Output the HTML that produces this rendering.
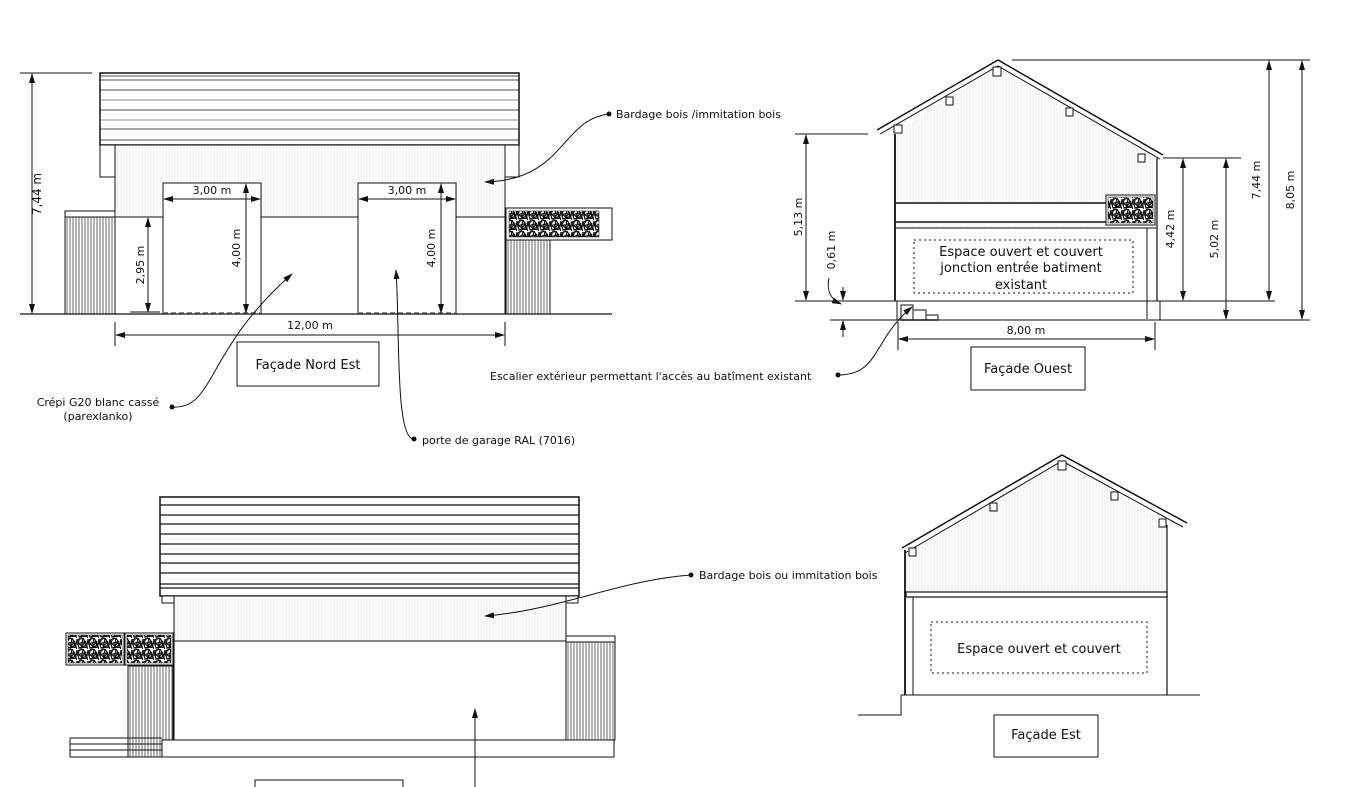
<!DOCTYPE html>
<html><head><meta charset="utf-8"><style>
html,body{margin:0;padding:0;background:#fff;}
svg{display:block;font-family:"DejaVu Sans","Liberation Sans",sans-serif;}
text{fill:#111;}
</style></head><body>
<svg width="1351" height="787" viewBox="0 0 1351 787" xmlns="http://www.w3.org/2000/svg">
<defs>
<pattern id="vh" width="3" height="10" patternUnits="userSpaceOnUse"><rect width="3" height="10" fill="#fff"/><line x1="1" y1="0" x2="1" y2="10" stroke="#dedede" stroke-width="0.6"/></pattern>
<pattern id="vd" width="3" height="10" patternUnits="userSpaceOnUse"><rect width="3" height="10" fill="#fff"/><line x1="1" y1="0" x2="1" y2="10" stroke="#444" stroke-width="0.8"/></pattern>
<pattern id="gab" width="11" height="11" patternUnits="userSpaceOnUse"><rect width="11" height="11" fill="#fff"/><path d="M0 2L6 0L10 7L2 10L0 2M6 0L4 11M10 7L11 1M2 10L11 9M0 6L7 4L11 11M3 0L1 5L5 8L9 3" stroke="#111" stroke-width="1.2" fill="none"/></pattern>
<marker id="ar" markerWidth="10" markerHeight="6" refX="9" refY="3" orient="auto" markerUnits="userSpaceOnUse"><path d="M0 0L10 3L0 6z" fill="#111"/></marker>
<marker id="ar2" markerWidth="10" markerHeight="6" refX="9" refY="3" orient="auto-start-reverse" markerUnits="userSpaceOnUse"><path d="M0 0L10 3L0 6z" fill="#111"/></marker>
</defs>

<!-- ===== Façade Nord Est ===== -->
<g stroke="#111" fill="none">
<rect x="100" y="73" width="419" height="72" fill="#fff" stroke-width="1.5"/>
<g stroke-width="0.8">
<line x1="100" y1="76" x2="519" y2="76"/><line x1="100" y1="80" x2="519" y2="80"/>
<line x1="100" y1="90" x2="519" y2="90"/><line x1="100" y1="100" x2="519" y2="100" stroke="#666"/>
<line x1="100" y1="110" x2="519" y2="110"/><line x1="100" y1="120" x2="519" y2="120" stroke="#666"/>
<line x1="100" y1="129" x2="519" y2="129"/><line x1="100" y1="140" x2="519" y2="140"/>
</g>
<rect x="115" y="145" width="390" height="72" fill="url(#vh)" stroke-width="1"/>
<rect x="100" y="145" width="15" height="32" fill="#fff"/><rect x="505" y="145" width="14" height="32" fill="#fff"/>
<rect x="115" y="217" width="390" height="97" fill="#fff" stroke-width="1"/>
<rect x="163" y="183" width="98" height="131" fill="#fff"/>
<rect x="358" y="183" width="98" height="131" fill="#fff"/>
<line x1="163" y1="313" x2="261" y2="313" stroke-dasharray="5 3" stroke="#888" stroke-width="2"/>
<line x1="358" y1="313" x2="456" y2="313" stroke-dasharray="5 3" stroke="#888" stroke-width="2"/>
<rect x="65" y="211" width="50" height="6" fill="#fff"/>
<rect x="65" y="217" width="50" height="97" fill="url(#vd)"/>
<rect x="506" y="208" width="106" height="32" fill="#fff"/>
<rect x="509" y="211" width="90" height="26" fill="url(#gab)" stroke-width="0.5"/>
<rect x="506" y="240" width="44" height="74" fill="url(#vd)"/>
<line x1="20" y1="314" x2="612" y2="314" stroke-width="1.2"/>
<line x1="20" y1="73" x2="92" y2="73"/>
<line x1="32" y1="74" x2="32" y2="313" marker-start="url(#ar2)" marker-end="url(#ar)"/>
<line x1="130" y1="217" x2="160" y2="217"/><line x1="130" y1="312" x2="160" y2="312"/>
<line x1="148" y1="218" x2="148" y2="312" marker-start="url(#ar2)" marker-end="url(#ar)"/>
<line x1="246" y1="184" x2="246" y2="313" marker-start="url(#ar2)" marker-end="url(#ar)"/>
<line x1="441" y1="184" x2="441" y2="313" marker-start="url(#ar2)" marker-end="url(#ar)"/>
<line x1="164" y1="199" x2="260" y2="199" marker-start="url(#ar2)" marker-end="url(#ar)"/>
<line x1="359" y1="199" x2="455" y2="199" marker-start="url(#ar2)" marker-end="url(#ar)"/>
<line x1="115" y1="322" x2="115" y2="346"/><line x1="505" y1="322" x2="505" y2="346"/>
<line x1="116" y1="335" x2="504" y2="335" marker-start="url(#ar2)" marker-end="url(#ar)"/>
<rect x="237" y="342" width="142" height="44" fill="#fff"/>
<path d="M609 114 C560 120 565 180 485 182" marker-end="url(#ar)"/>
<path d="M172 407 C215 410 205 350 292 274" marker-end="url(#ar)"/>
<path d="M414 439 C395 440 400 330 396 270" marker-end="url(#ar)"/>
</g>
<circle cx="609" cy="114" r="2.5" fill="#111"/><circle cx="172" cy="407" r="2.5" fill="#111"/><circle cx="414" cy="439" r="2.5" fill="#111"/>
<g font-size="11">
<text x="212" y="194" text-anchor="middle" dx="0">3,00 m</text><text x="407" y="194" text-anchor="middle">3,00 m</text>
<text x="310" y="329" text-anchor="middle">12,00 m</text>
<text transform="translate(41,194) rotate(-90)" text-anchor="middle" font-size="12">7,44 m</text>
<text transform="translate(144,265) rotate(-90)" text-anchor="middle">2,95 m</text>
<text transform="translate(240,248) rotate(-90)" text-anchor="middle">4,00 m</text>
<text transform="translate(435,248) rotate(-90)" text-anchor="middle">4,00 m</text>
<text x="616" y="118">Bardage bois /immitation bois</text>
<text x="98" y="406" text-anchor="middle">Crépi G20 blanc cassé</text>
<text x="98" y="420" text-anchor="middle">(parexlanko)</text>
<text x="422" y="444">porte de garage RAL (7016)</text>
</g>
<text x="308" y="369" font-size="13" text-anchor="middle">Façade Nord Est</text>

<!-- ===== Façade Ouest ===== -->
<g stroke="#111" fill="none">
<path d="M895 134 L998 66 L1157 158 L1157 301 L895 301Z" fill="url(#vh)" stroke="none"/>
<path d="M877 130 L998 60 L1163 155" stroke-width="1.5"/>
<path d="M880 134 L998 66 L1160 159" stroke-width="1"/>
<rect x="894" y="125" width="8" height="8" fill="#fff"/><rect x="946" y="97" width="7" height="8" fill="#fff"/>
<rect x="993" y="67" width="8" height="9" fill="#fff"/><rect x="1066" y="108" width="7" height="8" fill="#fff"/><rect x="1138" y="154" width="7" height="8" fill="#fff"/>
<line x1="895" y1="134" x2="895" y2="301" stroke-width="1.8"/>
<line x1="1157" y1="158" x2="1157" y2="301" stroke-width="1.2"/>
<rect x="896" y="203" width="210" height="20" fill="#fff" stroke="none"/>
<line x1="896" y1="203" x2="1110" y2="203" stroke-width="1.5"/>
<line x1="896" y1="222" x2="1110" y2="222" stroke-width="1.5"/>
<rect x="896" y="228" width="260" height="73" fill="#fff" stroke="none"/>
<line x1="896" y1="228" x2="1156" y2="228"/>
<rect x="1106" y="195" width="49" height="30" fill="#fff"/>
<rect x="1108" y="197" width="45" height="26" fill="url(#gab)" stroke-width="0.5"/>
<rect x="914" y="240" width="219" height="53" stroke-dasharray="2 3" stroke-width="1"/>
<line x1="1147" y1="228" x2="1147" y2="320"/>
<line x1="795" y1="301" x2="1275" y2="301"/>
<line x1="830" y1="320" x2="1310" y2="320"/>
<line x1="892" y1="320" x2="1160" y2="320" stroke="#888" stroke-width="2"/>
<line x1="897" y1="301" x2="897" y2="320"/><line x1="1160" y1="301" x2="1160" y2="320"/>
<rect x="901" y="305" width="12" height="15"/><rect x="913" y="310" width="13" height="10"/><rect x="926" y="315" width="12" height="5"/>
<line x1="795" y1="134" x2="868" y2="134"/>
<line x1="806" y1="135" x2="806" y2="300" marker-start="url(#ar2)" marker-end="url(#ar)"/>
<line x1="843" y1="287" x2="843" y2="300" marker-end="url(#ar)"/>
<line x1="843" y1="337" x2="843" y2="321" marker-end="url(#ar)"/>
<path d="M829 278 C826 292 832 300 841 304" marker-end="url(#ar)"/>
<line x1="1163" y1="158" x2="1222" y2="158"/><line x1="1196" y1="158" x2="1241" y2="158"/>
<line x1="1183" y1="159" x2="1183" y2="300" marker-start="url(#ar2)" marker-end="url(#ar)"/>
<line x1="1226" y1="159" x2="1226" y2="319" marker-start="url(#ar2)" marker-end="url(#ar)"/>
<line x1="1012" y1="60" x2="1310" y2="60"/>
<line x1="1269" y1="61" x2="1269" y2="300" marker-start="url(#ar2)" marker-end="url(#ar)"/>
<line x1="1302" y1="61" x2="1302" y2="319" marker-start="url(#ar2)" marker-end="url(#ar)"/>
<line x1="898" y1="322" x2="898" y2="350"/><line x1="1155" y1="322" x2="1155" y2="350"/>
<line x1="899" y1="339" x2="1154" y2="339" marker-start="url(#ar2)" marker-end="url(#ar)"/>
<rect x="971" y="347" width="114" height="43" fill="#fff"/>
<path d="M838 375 C880 375 872 340 912 307" marker-end="url(#ar)"/>
</g>
<circle cx="838" cy="375" r="2.5" fill="#111"/>
<g font-size="11">
<text transform="translate(802,217) rotate(-90)" text-anchor="middle">5,13 m</text>
<text transform="translate(835,250) rotate(-90)" text-anchor="middle">0,61 m</text>
<text transform="translate(1174,229) rotate(-90)" text-anchor="middle">4,42 m</text>
<text transform="translate(1218,239) rotate(-90)" text-anchor="middle">5,02 m</text>
<text transform="translate(1260,180) rotate(-90)" text-anchor="middle">7,44 m</text>
<text transform="translate(1294,190) rotate(-90)" text-anchor="middle">8,05 m</text>
<text x="1026" y="334" text-anchor="middle">8,00 m</text>
<text x="490" y="380">Escalier extérieur permettant l'accès au batîment existant</text>
</g>
<g font-size="13" text-anchor="middle">
<text x="1021" y="256">Espace ouvert et couvert</text>
<text x="1021" y="272">jonction entrée batiment</text>
<text x="1021" y="289">existant</text>
</g>
<text x="1028" y="373" font-size="13" text-anchor="middle">Façade Ouest</text>

<!-- ===== Bottom left façade ===== -->
<g stroke="#111" fill="none">
<rect x="160" y="497" width="419" height="99" fill="#fff" stroke-width="1.5"/>
<g stroke-width="1.3">
<line x1="160" y1="505" x2="579" y2="505"/><line x1="160" y1="515" x2="579" y2="515"/>
<line x1="160" y1="524" x2="579" y2="524"/><line x1="160" y1="534" x2="579" y2="534"/>
<line x1="160" y1="544" x2="579" y2="544"/><line x1="160" y1="554" x2="579" y2="554"/>
<line x1="160" y1="563" x2="579" y2="563"/><line x1="160" y1="573" x2="579" y2="573"/>
<line x1="160" y1="584" x2="579" y2="584"/><line x1="160" y1="588" x2="579" y2="588"/>
</g>
<rect x="162" y="596" width="12" height="7" fill="#fff"/><rect x="566" y="596" width="12" height="7" fill="#fff"/>
<rect x="174" y="596" width="392" height="45" fill="url(#vh)"/>
<rect x="174" y="641" width="392" height="99" fill="#fff"/>
<rect x="566" y="636" width="49" height="6" fill="#fff"/>
<rect x="566" y="642" width="49" height="98" fill="url(#vd)"/>
<rect x="66" y="633" width="58" height="32" fill="#fff"/><rect x="68" y="635" width="54" height="28" fill="url(#gab)" stroke-width="0.5"/>
<rect x="125" y="633" width="48" height="32" fill="#fff"/><rect x="127" y="635" width="44" height="28" fill="url(#gab)" stroke-width="0.5"/>
<rect x="128" y="666" width="45" height="91" fill="url(#vd)"/>
<rect x="162" y="740" width="452" height="17" fill="#fff"/>
<line x1="70" y1="738" x2="162" y2="738"/><line x1="70" y1="744" x2="162" y2="744"/>
<line x1="70" y1="750" x2="162" y2="750"/><line x1="70" y1="757" x2="162" y2="757"/>
<line x1="70" y1="738" x2="70" y2="757"/>
<rect x="255" y="780" width="148" height="20" fill="#fff"/>
<line x1="475" y1="787" x2="475" y2="709" marker-end="url(#ar)"/>
<path d="M691 575 C620 580 560 610 485 616" marker-end="url(#ar)"/>
</g>
<circle cx="691" cy="575" r="2.5" fill="#111"/>
<text x="699" y="579" font-size="11">Bardage bois ou immitation bois</text>

<!-- ===== Façade Est ===== -->
<g stroke="#111" fill="none">
<path d="M905 552 L1062 459 L1167 525 L1167 597 L905 597Z" fill="url(#vh)" stroke="none"/>
<path d="M902 548 L1062 455 L1187 523" stroke-width="1.5"/>
<path d="M905 553 L1062 461 L1183 527" stroke-width="1"/>
<rect x="909" y="548" width="7" height="8" fill="#fff"/><rect x="990" y="503" width="7" height="8" fill="#fff"/>
<rect x="1058" y="461" width="8" height="9" fill="#fff"/><rect x="1111" y="492" width="7" height="8" fill="#fff"/><rect x="1159" y="519" width="7" height="8" fill="#fff"/>
<line x1="905" y1="550" x2="905" y2="695" stroke-width="1.8"/>
<line x1="913" y1="597" x2="913" y2="695"/>
<line x1="1167" y1="525" x2="1167" y2="695" stroke-width="1.2"/>
<rect x="906" y="592" width="261" height="5" fill="#fff" stroke-width="1.2"/>
<rect x="931" y="622" width="216" height="51" stroke-dasharray="2 3"/>
<line x1="901" y1="695" x2="1200" y2="695"/>
<path d="M901 695 L901 715 L858 715"/>
<rect x="994" y="715" width="104" height="42" fill="#fff"/>
</g>
<text x="1039" y="653" font-size="13" text-anchor="middle">Espace ouvert et couvert</text>
<text x="1046" y="739" font-size="13" text-anchor="middle">Façade Est</text>
</svg>
</body></html>
